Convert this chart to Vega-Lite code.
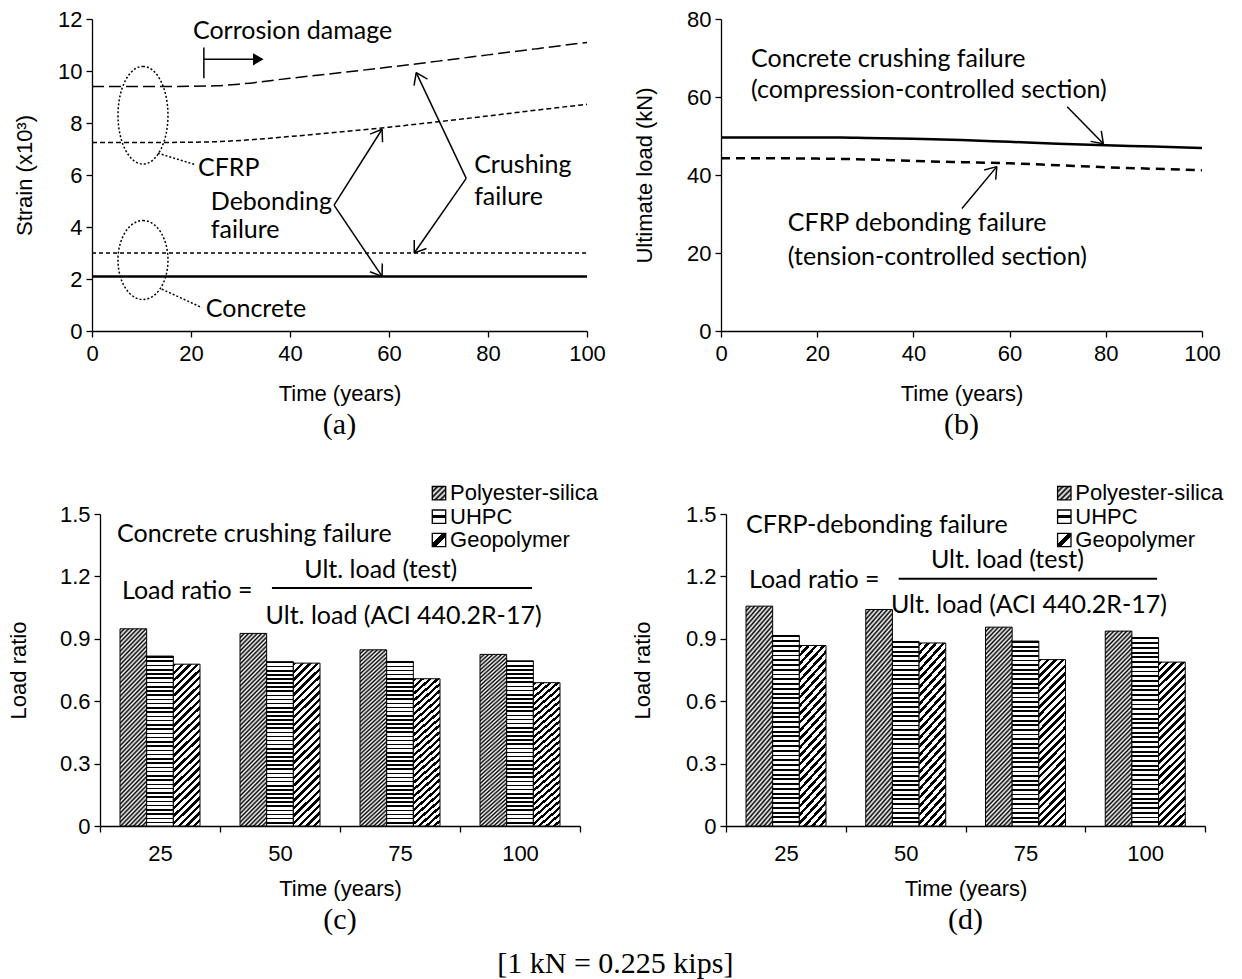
{
"$schema": "https://vega.github.io/schema/vega-lite/v6.json",
"padding": {"left": 7, "top": 8, "right": 5, "bottom": 5},
"background": "white",
"config": {
  "view": {"stroke": null},
  "font": "Liberation Sans",
  "axis": {"labelFont": "Liberation Sans", "titleFont": "Liberation Sans", "labelFontSize": 22, "titleFontSize": 22, "titleFontWeight": "normal", "labelColor": "black", "titleColor": "black", "domainColor": "black", "tickColor": "black", "grid": false, "tickSize": 6, "domainWidth": 1.3, "tickWidth": 1.3, "labelPadding": 4, "labelFlush": false},
  "axisX": {"titlePadding": 19},
  "title": {"font": "Liberation Serif", "fontSize": 30, "fontWeight": "normal", "color": "black"}
},
"datasets": {
  "a_lines": [
    {"s":"cc","x":0,"y":9.4},{"s":"cc","x":10,"y":9.4},{"s":"cc","x":20,"y":9.41},{"s":"cc","x":25,"y":9.43},{"s":"cc","x":30,"y":9.5},{"s":"cc","x":40,"y":9.72},{"s":"cc","x":50,"y":9.93},{"s":"cc","x":60,"y":10.15},{"s":"cc","x":70,"y":10.38},{"s":"cc","x":80,"y":10.62},{"s":"cc","x":90,"y":10.86},{"s":"cc","x":100,"y":11.1},
    {"s":"cd","x":0,"y":7.25},{"s":"cd","x":10,"y":7.25},{"s":"cd","x":20,"y":7.26},{"s":"cd","x":25,"y":7.28},{"s":"cd","x":30,"y":7.33},{"s":"cd","x":40,"y":7.48},{"s":"cd","x":50,"y":7.65},{"s":"cd","x":60,"y":7.84},{"s":"cd","x":70,"y":8.05},{"s":"cd","x":80,"y":8.27},{"s":"cd","x":90,"y":8.5},{"s":"cd","x":100,"y":8.72},
    {"s":"kc","x":0,"y":3.0},{"s":"kc","x":100,"y":3.0},
    {"s":"kd","x":0,"y":2.1},{"s":"kd","x":100,"y":2.1}
  ],
  "a_seg": [
    {"k":"s","x":48.9,"y":4.84,"x2":58.6,"y2":7.76},
    {"k":"s","x":58.6,"y":7.76,"x2":56.17,"y2":7.57},
    {"k":"s","x":58.6,"y":7.76,"x2":58.7,"y2":7.26},
    {"k":"s","x":48.9,"y":4.84,"x2":58.6,"y2":2.1},
    {"k":"s","x":58.6,"y":2.1,"x2":58.64,"y2":2.6},
    {"k":"s","x":58.6,"y":2.1,"x2":56.15,"y2":2.28},
    {"k":"s","x":75.6,"y":5.87,"x2":65.5,"y2":9.94},
    {"k":"s","x":65.5,"y":9.94,"x2":65.06,"y2":9.44},
    {"k":"s","x":65.5,"y":9.94,"x2":67.78,"y2":9.69},
    {"k":"s","x":75.6,"y":5.87,"x2":65.1,"y2":3.0},
    {"k":"s","x":65.1,"y":3.0,"x2":67.57,"y2":3.17},
    {"k":"s","x":65.1,"y":3.0,"x2":65.1,"y2":3.5},
    {"k":"s","x":22.6,"y":10.9,"x2":22.6,"y2":9.72},
    {"k":"s","x":22.6,"y":10.45,"x2":33.0,"y2":10.45},
    {"k":"d","x":13.3,"y":6.84,"x2":21.0,"y2":6.39},
    {"k":"d","x":14.1,"y":1.61,"x2":22.2,"y2":0.9}
  ],
  "a_txt": [
    {"x":20.4,"y":11.52,"label":"Corrosion damage"},
    {"x":21.4,"y":6.26,"label":"CFRP"},
    {"x":23.0,"y":0.84,"label":"Concrete"},
    {"x":24.0,"y":4.97,"label":"Debonding"},
    {"x":24.0,"y":3.87,"label":"failure"},
    {"x":77.2,"y":6.39,"label":"Crushing"},
    {"x":77.2,"y":5.16,"label":"failure"}
  ],
  "a_ell": [{"e":1,"x":10.3,"y":8.3},{"e":2,"x":10.3,"y":2.73}],
  "b_lines": [
    {"s":"cc","x":0,"y":49.6},{"s":"cc","x":10,"y":49.6},{"s":"cc","x":20,"y":49.6},{"s":"cc","x":25,"y":49.6},{"s":"cc","x":30,"y":49.5},{"s":"cc","x":40,"y":49.3},{"s":"cc","x":50,"y":49.0},{"s":"cc","x":60,"y":48.5},{"s":"cc","x":70,"y":48.0},{"s":"cc","x":80,"y":47.6},{"s":"cc","x":90,"y":47.3},{"s":"cc","x":100,"y":46.9},
    {"s":"cd","x":0,"y":44.3},{"s":"cd","x":10,"y":44.3},{"s":"cd","x":20,"y":44.2},{"s":"cd","x":30,"y":44.0},{"s":"cd","x":40,"y":43.6},{"s":"cd","x":50,"y":43.3},{"s":"cd","x":60,"y":43.0},{"s":"cd","x":70,"y":42.5},{"s":"cd","x":80,"y":42.0},{"s":"cd","x":90,"y":41.6},{"s":"cd","x":100,"y":41.2}
  ],
  "b_seg": [
    {"x":71.97,"y":57.5,"x2":79.5,"y2":48.0},
    {"x":79.5,"y":48.0,"x2":79.06,"y2":51.3},
    {"x":79.5,"y":48.0,"x2":76.84,"y2":48.62},
    {"x":50.1,"y":31.4,"x2":57.34,"y2":42.15},
    {"x":57.34,"y":42.15,"x2":54.72,"y2":41.27},
    {"x":57.34,"y":42.15,"x2":57.11,"y2":38.8}
  ],
  "b_txt": [
    {"x":6.24,"y":69.7,"label":"Concrete crushing failure"},
    {"x":6.24,"y":61.8,"label":"(compression-controlled section)"},
    {"x":13.9,"y":27.7,"label":"CFRP debonding failure"},
    {"x":13.9,"y":19.1,"label":"(tension-controlled section)"}
  ],
  "c_bars": [
    {"t":"25","m":"Polyester-silica","r":0.948},{"t":"25","m":"UHPC","r":0.817},{"t":"25","m":"Geopolymer","r":0.778},
    {"t":"50","m":"Polyester-silica","r":0.926},{"t":"50","m":"UHPC","r":0.79},{"t":"50","m":"Geopolymer","r":0.783},
    {"t":"75","m":"Polyester-silica","r":0.847},{"t":"75","m":"UHPC","r":0.791},{"t":"75","m":"Geopolymer","r":0.708},
    {"t":"100","m":"Polyester-silica","r":0.825},{"t":"100","m":"UHPC","r":0.794},{"t":"100","m":"Geopolymer","r":0.689}
  ],
  "d_bars": [
    {"t":"25","m":"Polyester-silica","r":1.057},{"t":"25","m":"UHPC","r":0.916},{"t":"25","m":"Geopolymer","r":0.868},
    {"t":"50","m":"Polyester-silica","r":1.041},{"t":"50","m":"UHPC","r":0.887},{"t":"50","m":"Geopolymer","r":0.88},
    {"t":"75","m":"Polyester-silica","r":0.956},{"t":"75","m":"UHPC","r":0.889},{"t":"75","m":"Geopolymer","r":0.80},
    {"t":"100","m":"Polyester-silica","r":0.937},{"t":"100","m":"UHPC","r":0.906},{"t":"100","m":"Geopolymer","r":0.788}
  ],
  "c_left": [{"x":0.142,"y":1.405,"label":"Concrete crushing failure"},{"x":0.183,"y":1.132,"label":"Load ratio ="}],
  "c_center": [{"x":2.34,"y":1.232,"label":"Ult. load (test)"},{"x":2.53,"y":1.012,"label":"Ult. load (ACI 440.2R-17)"}],
  "c_rule": [{"x":1.433,"y":1.144,"x2":3.6,"y2":1.144}],
  "d_left": [{"x":0.167,"y":1.445,"label":"CFRP-debonding failure"},{"x":0.192,"y":1.181,"label":"Load ratio ="}],
  "d_center": [{"x":2.35,"y":1.277,"label":"Ult. load (test)"},{"x":2.53,"y":1.061,"label":"Ult. load (ACI 440.2R-17)"}],
  "d_rule": [{"x":1.442,"y":1.189,"x2":3.6,"y2":1.189}],
  "leg_sq": [{"m":"Polyester-silica","x":2.825,"y":1.6},{"m":"UHPC","x":2.825,"y":1.487},{"m":"Geopolymer","x":2.825,"y":1.375}],
  "leg_txt": [{"x":2.917,"y":1.6,"label":"Polyester-silica"},{"x":2.917,"y":1.487,"label":"UHPC"},{"x":2.917,"y":1.375,"label":"Geopolymer"}]
},
"title": {"text": "[1 kN = 0.225 kips]", "orient": "bottom", "anchor": "middle", "offset": 14},
"spacing": 495,
"bounds": "flush",
"vconcat": [
  {"hconcat": [
    {
      "width": 495, "height": 312,
      "title": {"text": "(a)", "orient": "bottom", "offset": 6},
      "encoding": {
        "x": {"field": "x", "type": "quantitative", "scale": {"domain": [0, 100], "nice": false, "zero": false}, "axis": {"values": [0,20,40,60,80,100], "title": "Time (years)", "labelPadding": 6}},
        "y": {"field": "y", "type": "quantitative", "scale": {"domain": [0, 12], "nice": false}, "axis": {"values": [0,2,4,6,8,10,12], "title": "Strain (x10³)", "titlePadding": 21}}
      },
      "layer": [
        {"data": {"name": "a_lines"}, "transform": [{"filter": "datum.s == 'cc'"}], "mark": {"type": "line", "interpolate": "monotone", "stroke": "black", "strokeWidth": 1.5, "strokeDash": [12, 5]}},
        {"data": {"name": "a_lines"}, "transform": [{"filter": "datum.s == 'cd'"}], "mark": {"type": "line", "interpolate": "monotone", "stroke": "black", "strokeWidth": 1.5, "strokeDash": [5, 3]}},
        {"data": {"name": "a_lines"}, "transform": [{"filter": "datum.s == 'kc'"}], "mark": {"type": "line", "stroke": "black", "strokeWidth": 1.3, "strokeDash": [4, 3]}},
        {"data": {"name": "a_lines"}, "transform": [{"filter": "datum.s == 'kd'"}], "mark": {"type": "line", "stroke": "black", "strokeWidth": 2.5}},
        {"data": {"name": "a_seg"}, "transform": [{"filter": "datum.k == 's'"}], "mark": {"type": "rule", "stroke": "black", "strokeWidth": 1.5}, "encoding": {"x2": {"field": "x2"}, "y2": {"field": "y2"}}},
        {"data": {"name": "a_seg"}, "transform": [{"filter": "datum.k == 'd'"}], "mark": {"type": "rule", "stroke": "black", "strokeWidth": 1.5, "strokeDash": [2, 2]}, "encoding": {"x2": {"field": "x2"}, "y2": {"field": "y2"}}},
        {"data": {"values": [{"x": 33.6, "y": 10.45}]}, "mark": {"type": "point", "shape": "triangle-right", "filled": true, "fill": "black", "size": 150, "opacity": 1}},
        {"data": {"name": "a_ell"}, "transform": [{"filter": "datum.e == 1"}], "mark": {"type": "point", "shape": "M0,-1A0.512,1,0,1,1,0,1A0.512,1,0,1,1,0,-1Z", "size": 9526, "filled": false, "stroke": "black", "strokeWidth": 1.5, "strokeDash": [2, 2], "opacity": 1}},
        {"data": {"name": "a_ell"}, "transform": [{"filter": "datum.e == 2"}], "mark": {"type": "point", "shape": "M0,-1A0.633,1,0,1,1,0,1A0.633,1,0,1,1,0,-1Z", "size": 6241, "filled": false, "stroke": "black", "strokeWidth": 1.5, "strokeDash": [2, 2], "opacity": 1}},
        {"data": {"name": "a_txt"}, "mark": {"type": "text", "align": "left", "baseline": "middle", "font": "Lato", "fontSize": 25, "fill": "black"}, "encoding": {"text": {"field": "label"}}}
      ]
    },
    {
      "width": 481, "height": 312,
      "title": {"text": "(b)", "orient": "bottom", "offset": 6},
      "encoding": {
        "x": {"field": "x", "type": "quantitative", "scale": {"domain": [0, 100], "nice": false, "zero": false}, "axis": {"values": [0,20,40,60,80,100], "title": "Time (years)", "labelPadding": 6}},
        "y": {"field": "y", "type": "quantitative", "scale": {"domain": [0, 80], "nice": false}, "axis": {"values": [0,20,40,60,80], "title": "Ultimate load (kN)", "titlePadding": 30}}
      },
      "layer": [
        {"data": {"name": "b_lines"}, "transform": [{"filter": "datum.s == 'cc'"}], "mark": {"type": "line", "interpolate": "monotone", "stroke": "black", "strokeWidth": 2.5}},
        {"data": {"name": "b_lines"}, "transform": [{"filter": "datum.s == 'cd'"}], "mark": {"type": "line", "interpolate": "monotone", "stroke": "black", "strokeWidth": 2.5, "strokeDash": [9, 6]}},
        {"data": {"name": "b_seg"}, "mark": {"type": "rule", "stroke": "black", "strokeWidth": 1.5}, "encoding": {"x2": {"field": "x2"}, "y2": {"field": "y2"}}},
        {"data": {"name": "b_txt"}, "mark": {"type": "text", "align": "left", "baseline": "middle", "font": "Lato", "fontSize": 25, "fill": "black"}, "encoding": {"text": {"field": "label"}}}
      ]
    }
  ], "spacing": 134, "bounds": "flush"},
  {"hconcat": [
    {"width": 8, "height": 312, "data": {"values": [{}]}, "mark": {"type": "text", "text": ""}},
    {
      "width": 480, "height": 312,
      "title": {"text": "(c)", "orient": "bottom", "offset": 6},
      "layer": [
        {
          "data": {"name": "c_bars"},
          "encoding": {
            "x": {"field": "t", "type": "ordinal", "sort": ["25","50","75","100"], "scale": {"paddingInner": 0, "paddingOuter": 0}, "axis": {"title": "Time (years)", "tickBand": "extent", "labelAngle": 0, "labelPadding": 11, "titlePadding": 14}},
            "xOffset": {"field": "m", "type": "nominal", "scale": {"domain": ["Polyester-silica","UHPC","Geopolymer"], "paddingInner": 0, "paddingOuter": 0.75}},
            "y": {"field": "r", "type": "quantitative", "scale": {"domain": [0, 1.5], "nice": false}, "axis": {"values": [0,0.3,0.6,0.9,1.2,1.5], "format": ".1~f", "title": "Load ratio", "titlePadding": 29}}
          },
          "layer": [
            {"transform": [{"filter": "datum.m == 'Polyester-silica'"}], "mark": {"type": "bar", "stroke": "black", "strokeWidth": 1, "fill": {"gradient": "linear", "x1": 0, "y1": 0, "x2": 0.1572, "y2": 1.1184, "stops": [
{"offset":0,"color":"#000"},{"offset":0.01,"color":"#fff"},{"offset":0.02,"color":"#000"},{"offset":0.03,"color":"#fff"},{"offset":0.04,"color":"#000"},{"offset":0.05,"color":"#fff"},{"offset":0.06,"color":"#000"},{"offset":0.07,"color":"#fff"},{"offset":0.08,"color":"#000"},{"offset":0.09,"color":"#fff"},
{"offset":0.1,"color":"#000"},{"offset":0.11,"color":"#fff"},{"offset":0.12,"color":"#000"},{"offset":0.13,"color":"#fff"},{"offset":0.14,"color":"#000"},{"offset":0.15,"color":"#fff"},{"offset":0.16,"color":"#000"},{"offset":0.17,"color":"#fff"},{"offset":0.18,"color":"#000"},{"offset":0.19,"color":"#fff"},
{"offset":0.2,"color":"#000"},{"offset":0.21,"color":"#fff"},{"offset":0.22,"color":"#000"},{"offset":0.23,"color":"#fff"},{"offset":0.24,"color":"#000"},{"offset":0.25,"color":"#fff"},{"offset":0.26,"color":"#000"},{"offset":0.27,"color":"#fff"},{"offset":0.28,"color":"#000"},{"offset":0.29,"color":"#fff"},
{"offset":0.3,"color":"#000"},{"offset":0.31,"color":"#fff"},{"offset":0.32,"color":"#000"},{"offset":0.33,"color":"#fff"},{"offset":0.34,"color":"#000"},{"offset":0.35,"color":"#fff"},{"offset":0.36,"color":"#000"},{"offset":0.37,"color":"#fff"},{"offset":0.38,"color":"#000"},{"offset":0.39,"color":"#fff"},
{"offset":0.4,"color":"#000"},{"offset":0.41,"color":"#fff"},{"offset":0.42,"color":"#000"},{"offset":0.43,"color":"#fff"},{"offset":0.44,"color":"#000"},{"offset":0.45,"color":"#fff"},{"offset":0.46,"color":"#000"},{"offset":0.47,"color":"#fff"},{"offset":0.48,"color":"#000"},{"offset":0.49,"color":"#fff"},
{"offset":0.5,"color":"#000"},{"offset":0.51,"color":"#fff"},{"offset":0.52,"color":"#000"},{"offset":0.53,"color":"#fff"},{"offset":0.54,"color":"#000"},{"offset":0.55,"color":"#fff"},{"offset":0.56,"color":"#000"},{"offset":0.57,"color":"#fff"},{"offset":0.58,"color":"#000"},{"offset":0.59,"color":"#fff"},
{"offset":0.6,"color":"#000"},{"offset":0.61,"color":"#fff"},{"offset":0.62,"color":"#000"},{"offset":0.63,"color":"#fff"},{"offset":0.64,"color":"#000"},{"offset":0.65,"color":"#fff"},{"offset":0.66,"color":"#000"},{"offset":0.67,"color":"#fff"},{"offset":0.68,"color":"#000"},{"offset":0.69,"color":"#fff"},
{"offset":0.7,"color":"#000"},{"offset":0.71,"color":"#fff"},{"offset":0.72,"color":"#000"},{"offset":0.73,"color":"#fff"},{"offset":0.74,"color":"#000"},{"offset":0.75,"color":"#fff"},{"offset":0.76,"color":"#000"},{"offset":0.77,"color":"#fff"},{"offset":0.78,"color":"#000"},{"offset":0.79,"color":"#fff"},
{"offset":0.8,"color":"#000"},{"offset":0.81,"color":"#fff"},{"offset":0.82,"color":"#000"},{"offset":0.83,"color":"#fff"},{"offset":0.84,"color":"#000"},{"offset":0.85,"color":"#fff"},{"offset":0.86,"color":"#000"},{"offset":0.87,"color":"#fff"},{"offset":0.88,"color":"#000"},{"offset":0.89,"color":"#fff"},
{"offset":0.9,"color":"#000"},{"offset":0.91,"color":"#fff"},{"offset":0.92,"color":"#000"},{"offset":0.93,"color":"#fff"},{"offset":0.94,"color":"#000"},{"offset":0.95,"color":"#fff"},{"offset":0.96,"color":"#000"},{"offset":0.97,"color":"#fff"},{"offset":0.98,"color":"#000"},{"offset":0.99,"color":"#fff"},
{"offset":1,"color":"#000"}]}}},
            {"transform": [{"filter": "datum.m == 'UHPC'"}], "mark": {"type": "bar", "stroke": "black", "strokeWidth": 1, "fill": {"gradient": "linear", "x1": 0, "y1": 0, "x2": 0, "y2": 1, "stops": [
{"offset":0,"color":"#000"},{"offset":0.01,"color":"#000"},{"offset":0.01,"color":"#fff"},{"offset":0.025,"color":"#fff"},
{"offset":0.025,"color":"#000"},{"offset":0.035,"color":"#000"},{"offset":0.035,"color":"#fff"},{"offset":0.05,"color":"#fff"},
{"offset":0.05,"color":"#000"},{"offset":0.06,"color":"#000"},{"offset":0.06,"color":"#fff"},{"offset":0.075,"color":"#fff"},
{"offset":0.075,"color":"#000"},{"offset":0.085,"color":"#000"},{"offset":0.085,"color":"#fff"},{"offset":0.1,"color":"#fff"},
{"offset":0.1,"color":"#000"},{"offset":0.11,"color":"#000"},{"offset":0.11,"color":"#fff"},{"offset":0.125,"color":"#fff"},
{"offset":0.125,"color":"#000"},{"offset":0.135,"color":"#000"},{"offset":0.135,"color":"#fff"},{"offset":0.15,"color":"#fff"},
{"offset":0.15,"color":"#000"},{"offset":0.16,"color":"#000"},{"offset":0.16,"color":"#fff"},{"offset":0.175,"color":"#fff"},
{"offset":0.175,"color":"#000"},{"offset":0.185,"color":"#000"},{"offset":0.185,"color":"#fff"},{"offset":0.2,"color":"#fff"},
{"offset":0.2,"color":"#000"},{"offset":0.21,"color":"#000"},{"offset":0.21,"color":"#fff"},{"offset":0.225,"color":"#fff"},
{"offset":0.225,"color":"#000"},{"offset":0.235,"color":"#000"},{"offset":0.235,"color":"#fff"},{"offset":0.25,"color":"#fff"},
{"offset":0.25,"color":"#000"},{"offset":0.26,"color":"#000"},{"offset":0.26,"color":"#fff"},{"offset":0.275,"color":"#fff"},
{"offset":0.275,"color":"#000"},{"offset":0.285,"color":"#000"},{"offset":0.285,"color":"#fff"},{"offset":0.3,"color":"#fff"},
{"offset":0.3,"color":"#000"},{"offset":0.31,"color":"#000"},{"offset":0.31,"color":"#fff"},{"offset":0.325,"color":"#fff"},
{"offset":0.325,"color":"#000"},{"offset":0.335,"color":"#000"},{"offset":0.335,"color":"#fff"},{"offset":0.35,"color":"#fff"},
{"offset":0.35,"color":"#000"},{"offset":0.36,"color":"#000"},{"offset":0.36,"color":"#fff"},{"offset":0.375,"color":"#fff"},
{"offset":0.375,"color":"#000"},{"offset":0.385,"color":"#000"},{"offset":0.385,"color":"#fff"},{"offset":0.4,"color":"#fff"},
{"offset":0.4,"color":"#000"},{"offset":0.41,"color":"#000"},{"offset":0.41,"color":"#fff"},{"offset":0.425,"color":"#fff"},
{"offset":0.425,"color":"#000"},{"offset":0.435,"color":"#000"},{"offset":0.435,"color":"#fff"},{"offset":0.45,"color":"#fff"},
{"offset":0.45,"color":"#000"},{"offset":0.46,"color":"#000"},{"offset":0.46,"color":"#fff"},{"offset":0.475,"color":"#fff"},
{"offset":0.475,"color":"#000"},{"offset":0.485,"color":"#000"},{"offset":0.485,"color":"#fff"},{"offset":0.5,"color":"#fff"},
{"offset":0.5,"color":"#000"},{"offset":0.51,"color":"#000"},{"offset":0.51,"color":"#fff"},{"offset":0.525,"color":"#fff"},
{"offset":0.525,"color":"#000"},{"offset":0.535,"color":"#000"},{"offset":0.535,"color":"#fff"},{"offset":0.55,"color":"#fff"},
{"offset":0.55,"color":"#000"},{"offset":0.56,"color":"#000"},{"offset":0.56,"color":"#fff"},{"offset":0.575,"color":"#fff"},
{"offset":0.575,"color":"#000"},{"offset":0.585,"color":"#000"},{"offset":0.585,"color":"#fff"},{"offset":0.6,"color":"#fff"},
{"offset":0.6,"color":"#000"},{"offset":0.61,"color":"#000"},{"offset":0.61,"color":"#fff"},{"offset":0.625,"color":"#fff"},
{"offset":0.625,"color":"#000"},{"offset":0.635,"color":"#000"},{"offset":0.635,"color":"#fff"},{"offset":0.65,"color":"#fff"},
{"offset":0.65,"color":"#000"},{"offset":0.66,"color":"#000"},{"offset":0.66,"color":"#fff"},{"offset":0.675,"color":"#fff"},
{"offset":0.675,"color":"#000"},{"offset":0.685,"color":"#000"},{"offset":0.685,"color":"#fff"},{"offset":0.7,"color":"#fff"},
{"offset":0.7,"color":"#000"},{"offset":0.71,"color":"#000"},{"offset":0.71,"color":"#fff"},{"offset":0.725,"color":"#fff"},
{"offset":0.725,"color":"#000"},{"offset":0.735,"color":"#000"},{"offset":0.735,"color":"#fff"},{"offset":0.75,"color":"#fff"},
{"offset":0.75,"color":"#000"},{"offset":0.76,"color":"#000"},{"offset":0.76,"color":"#fff"},{"offset":0.775,"color":"#fff"},
{"offset":0.775,"color":"#000"},{"offset":0.785,"color":"#000"},{"offset":0.785,"color":"#fff"},{"offset":0.8,"color":"#fff"},
{"offset":0.8,"color":"#000"},{"offset":0.81,"color":"#000"},{"offset":0.81,"color":"#fff"},{"offset":0.825,"color":"#fff"},
{"offset":0.825,"color":"#000"},{"offset":0.835,"color":"#000"},{"offset":0.835,"color":"#fff"},{"offset":0.85,"color":"#fff"},
{"offset":0.85,"color":"#000"},{"offset":0.86,"color":"#000"},{"offset":0.86,"color":"#fff"},{"offset":0.875,"color":"#fff"},
{"offset":0.875,"color":"#000"},{"offset":0.885,"color":"#000"},{"offset":0.885,"color":"#fff"},{"offset":0.9,"color":"#fff"},
{"offset":0.9,"color":"#000"},{"offset":0.91,"color":"#000"},{"offset":0.91,"color":"#fff"},{"offset":0.925,"color":"#fff"},
{"offset":0.925,"color":"#000"},{"offset":0.935,"color":"#000"},{"offset":0.935,"color":"#fff"},{"offset":0.95,"color":"#fff"},
{"offset":0.95,"color":"#000"},{"offset":0.96,"color":"#000"},{"offset":0.96,"color":"#fff"},{"offset":0.975,"color":"#fff"},
{"offset":0.975,"color":"#000"},{"offset":0.985,"color":"#000"},{"offset":0.985,"color":"#fff"},{"offset":1,"color":"#fff"}]}}},
            {"transform": [{"filter": "datum.m == 'Geopolymer'"}], "mark": {"type": "bar", "stroke": "black", "strokeWidth": 1, "fill": {"gradient": "linear", "x1": 0, "y1": 0, "x2": 0.1832, "y2": 1.1322, "stops": [
{"offset":0,"color":"#000"},{"offset":0.018,"color":"#000"},{"offset":0.018,"color":"#fff"},{"offset":0.04,"color":"#fff"},
{"offset":0.04,"color":"#000"},{"offset":0.058,"color":"#000"},{"offset":0.058,"color":"#fff"},{"offset":0.08,"color":"#fff"},
{"offset":0.08,"color":"#000"},{"offset":0.098,"color":"#000"},{"offset":0.098,"color":"#fff"},{"offset":0.12,"color":"#fff"},
{"offset":0.12,"color":"#000"},{"offset":0.138,"color":"#000"},{"offset":0.138,"color":"#fff"},{"offset":0.16,"color":"#fff"},
{"offset":0.16,"color":"#000"},{"offset":0.178,"color":"#000"},{"offset":0.178,"color":"#fff"},{"offset":0.2,"color":"#fff"},
{"offset":0.2,"color":"#000"},{"offset":0.218,"color":"#000"},{"offset":0.218,"color":"#fff"},{"offset":0.24,"color":"#fff"},
{"offset":0.24,"color":"#000"},{"offset":0.258,"color":"#000"},{"offset":0.258,"color":"#fff"},{"offset":0.28,"color":"#fff"},
{"offset":0.28,"color":"#000"},{"offset":0.298,"color":"#000"},{"offset":0.298,"color":"#fff"},{"offset":0.32,"color":"#fff"},
{"offset":0.32,"color":"#000"},{"offset":0.338,"color":"#000"},{"offset":0.338,"color":"#fff"},{"offset":0.36,"color":"#fff"},
{"offset":0.36,"color":"#000"},{"offset":0.378,"color":"#000"},{"offset":0.378,"color":"#fff"},{"offset":0.4,"color":"#fff"},
{"offset":0.4,"color":"#000"},{"offset":0.418,"color":"#000"},{"offset":0.418,"color":"#fff"},{"offset":0.44,"color":"#fff"},
{"offset":0.44,"color":"#000"},{"offset":0.458,"color":"#000"},{"offset":0.458,"color":"#fff"},{"offset":0.48,"color":"#fff"},
{"offset":0.48,"color":"#000"},{"offset":0.498,"color":"#000"},{"offset":0.498,"color":"#fff"},{"offset":0.52,"color":"#fff"},
{"offset":0.52,"color":"#000"},{"offset":0.538,"color":"#000"},{"offset":0.538,"color":"#fff"},{"offset":0.56,"color":"#fff"},
{"offset":0.56,"color":"#000"},{"offset":0.578,"color":"#000"},{"offset":0.578,"color":"#fff"},{"offset":0.6,"color":"#fff"},
{"offset":0.6,"color":"#000"},{"offset":0.618,"color":"#000"},{"offset":0.618,"color":"#fff"},{"offset":0.64,"color":"#fff"},
{"offset":0.64,"color":"#000"},{"offset":0.658,"color":"#000"},{"offset":0.658,"color":"#fff"},{"offset":0.68,"color":"#fff"},
{"offset":0.68,"color":"#000"},{"offset":0.698,"color":"#000"},{"offset":0.698,"color":"#fff"},{"offset":0.72,"color":"#fff"},
{"offset":0.72,"color":"#000"},{"offset":0.738,"color":"#000"},{"offset":0.738,"color":"#fff"},{"offset":0.76,"color":"#fff"},
{"offset":0.76,"color":"#000"},{"offset":0.778,"color":"#000"},{"offset":0.778,"color":"#fff"},{"offset":0.8,"color":"#fff"},
{"offset":0.8,"color":"#000"},{"offset":0.818,"color":"#000"},{"offset":0.818,"color":"#fff"},{"offset":0.84,"color":"#fff"},
{"offset":0.84,"color":"#000"},{"offset":0.858,"color":"#000"},{"offset":0.858,"color":"#fff"},{"offset":0.88,"color":"#fff"},
{"offset":0.88,"color":"#000"},{"offset":0.898,"color":"#000"},{"offset":0.898,"color":"#fff"},{"offset":0.92,"color":"#fff"},
{"offset":0.92,"color":"#000"},{"offset":0.938,"color":"#000"},{"offset":0.938,"color":"#fff"},{"offset":0.96,"color":"#fff"},
{"offset":0.96,"color":"#000"},{"offset":0.978,"color":"#000"},{"offset":0.978,"color":"#fff"},{"offset":1,"color":"#fff"}]}}}
          ]
        },
        {
          "encoding": {
            "x": {"field": "x", "type": "quantitative", "scale": {"domain": [0, 4], "nice": false, "zero": false}, "axis": null},
            "y": {"field": "y", "type": "quantitative", "scale": {"domain": [0, 1.5], "nice": false}, "axis": null}
          },
          "layer": [
            {"data": {"name": "c_left"}, "mark": {"type": "text", "align": "left", "baseline": "middle", "font": "Lato", "fontSize": 25, "fill": "black"}, "encoding": {"text": {"field": "label"}}},
            {"data": {"name": "c_center"}, "mark": {"type": "text", "align": "center", "baseline": "middle", "font": "Lato", "fontSize": 25, "fill": "black"}, "encoding": {"text": {"field": "label"}}},
            {"data": {"name": "c_rule"}, "mark": {"type": "rule", "stroke": "black", "strokeWidth": 2}, "encoding": {"x2": {"field": "x2"}, "y2": {"field": "y2"}}},
            {"data": {"name": "leg_sq"}, "transform": [{"filter": "datum.m == 'Polyester-silica'"}], "mark": {"type": "point", "shape": "square", "size": 180, "filled": true, "stroke": "black", "strokeWidth": 1.3, "opacity": 1, "fill": {"gradient": "linear", "x1": 0, "y1": 0, "x2": 1, "y2": 1, "stops": [
{"offset":0,"color":"#000"},{"offset":0.1,"color":"#fff"},{"offset":0.2,"color":"#000"},{"offset":0.3,"color":"#fff"},{"offset":0.4,"color":"#000"},{"offset":0.5,"color":"#fff"},{"offset":0.6,"color":"#000"},{"offset":0.7,"color":"#fff"},{"offset":0.8,"color":"#000"},{"offset":0.9,"color":"#fff"},{"offset":1,"color":"#000"}]}}},
            {"data": {"name": "leg_sq"}, "transform": [{"filter": "datum.m == 'UHPC'"}], "mark": {"type": "point", "shape": "square", "size": 180, "filled": true, "stroke": "black", "strokeWidth": 1.3, "opacity": 1, "fill": {"gradient": "linear", "x1": 0, "y1": 0, "x2": 0, "y2": 1, "stops": [
{"offset":0,"color":"#fff"},{"offset":0.4,"color":"#fff"},{"offset":0.4,"color":"#000"},{"offset":0.6,"color":"#000"},{"offset":0.6,"color":"#fff"},{"offset":1,"color":"#fff"}]}}},
            {"data": {"name": "leg_sq"}, "transform": [{"filter": "datum.m == 'Geopolymer'"}], "mark": {"type": "point", "shape": "square", "size": 180, "filled": true, "stroke": "black", "strokeWidth": 1.3, "opacity": 1, "fill": {"gradient": "linear", "x1": 0, "y1": 0, "x2": 1, "y2": 1, "stops": [
{"offset":0,"color":"#fff"},{"offset":0.38,"color":"#fff"},{"offset":0.38,"color":"#000"},{"offset":0.62,"color":"#000"},{"offset":0.62,"color":"#fff"},{"offset":1,"color":"#fff"}]}}},
            {"data": {"name": "leg_txt"}, "mark": {"type": "text", "align": "left", "baseline": "middle", "font": "Liberation Sans", "fontSize": 22, "fill": "black"}, "encoding": {"text": {"field": "label"}}}
          ]
        }
      ],
      "resolve": {"scale": {"x": "independent", "y": "independent"}}
    },
    {"width": 146, "height": 312, "data": {"values": [{}]}, "mark": {"type": "text", "text": ""}},
    {
      "width": 479, "height": 312,
      "title": {"text": "(d)", "orient": "bottom", "offset": 6},
      "layer": [
        {
          "data": {"name": "d_bars"},
          "encoding": {
            "x": {"field": "t", "type": "ordinal", "sort": ["25","50","75","100"], "scale": {"paddingInner": 0, "paddingOuter": 0}, "axis": {"title": "Time (years)", "tickBand": "extent", "labelAngle": 0, "labelPadding": 11, "titlePadding": 14}},
            "xOffset": {"field": "m", "type": "nominal", "scale": {"domain": ["Polyester-silica","UHPC","Geopolymer"], "paddingInner": 0, "paddingOuter": 0.75}},
            "y": {"field": "r", "type": "quantitative", "scale": {"domain": [0, 1.5], "nice": false}, "axis": {"values": [0,0.3,0.6,0.9,1.2,1.5], "format": ".1~f", "title": "Load ratio", "titlePadding": 31}}
          },
          "layer": [
            {"transform": [{"filter": "datum.m == 'Polyester-silica'"}], "mark": {"type": "bar", "stroke": "black", "strokeWidth": 1, "fill": {"gradient": "linear", "x1": 0, "y1": 0, "x2": 0.1572, "y2": 1.1184, "stops": [
{"offset":0,"color":"#000"},{"offset":0.01,"color":"#fff"},{"offset":0.02,"color":"#000"},{"offset":0.03,"color":"#fff"},{"offset":0.04,"color":"#000"},{"offset":0.05,"color":"#fff"},{"offset":0.06,"color":"#000"},{"offset":0.07,"color":"#fff"},{"offset":0.08,"color":"#000"},{"offset":0.09,"color":"#fff"},
{"offset":0.1,"color":"#000"},{"offset":0.11,"color":"#fff"},{"offset":0.12,"color":"#000"},{"offset":0.13,"color":"#fff"},{"offset":0.14,"color":"#000"},{"offset":0.15,"color":"#fff"},{"offset":0.16,"color":"#000"},{"offset":0.17,"color":"#fff"},{"offset":0.18,"color":"#000"},{"offset":0.19,"color":"#fff"},
{"offset":0.2,"color":"#000"},{"offset":0.21,"color":"#fff"},{"offset":0.22,"color":"#000"},{"offset":0.23,"color":"#fff"},{"offset":0.24,"color":"#000"},{"offset":0.25,"color":"#fff"},{"offset":0.26,"color":"#000"},{"offset":0.27,"color":"#fff"},{"offset":0.28,"color":"#000"},{"offset":0.29,"color":"#fff"},
{"offset":0.3,"color":"#000"},{"offset":0.31,"color":"#fff"},{"offset":0.32,"color":"#000"},{"offset":0.33,"color":"#fff"},{"offset":0.34,"color":"#000"},{"offset":0.35,"color":"#fff"},{"offset":0.36,"color":"#000"},{"offset":0.37,"color":"#fff"},{"offset":0.38,"color":"#000"},{"offset":0.39,"color":"#fff"},
{"offset":0.4,"color":"#000"},{"offset":0.41,"color":"#fff"},{"offset":0.42,"color":"#000"},{"offset":0.43,"color":"#fff"},{"offset":0.44,"color":"#000"},{"offset":0.45,"color":"#fff"},{"offset":0.46,"color":"#000"},{"offset":0.47,"color":"#fff"},{"offset":0.48,"color":"#000"},{"offset":0.49,"color":"#fff"},
{"offset":0.5,"color":"#000"},{"offset":0.51,"color":"#fff"},{"offset":0.52,"color":"#000"},{"offset":0.53,"color":"#fff"},{"offset":0.54,"color":"#000"},{"offset":0.55,"color":"#fff"},{"offset":0.56,"color":"#000"},{"offset":0.57,"color":"#fff"},{"offset":0.58,"color":"#000"},{"offset":0.59,"color":"#fff"},
{"offset":0.6,"color":"#000"},{"offset":0.61,"color":"#fff"},{"offset":0.62,"color":"#000"},{"offset":0.63,"color":"#fff"},{"offset":0.64,"color":"#000"},{"offset":0.65,"color":"#fff"},{"offset":0.66,"color":"#000"},{"offset":0.67,"color":"#fff"},{"offset":0.68,"color":"#000"},{"offset":0.69,"color":"#fff"},
{"offset":0.7,"color":"#000"},{"offset":0.71,"color":"#fff"},{"offset":0.72,"color":"#000"},{"offset":0.73,"color":"#fff"},{"offset":0.74,"color":"#000"},{"offset":0.75,"color":"#fff"},{"offset":0.76,"color":"#000"},{"offset":0.77,"color":"#fff"},{"offset":0.78,"color":"#000"},{"offset":0.79,"color":"#fff"},
{"offset":0.8,"color":"#000"},{"offset":0.81,"color":"#fff"},{"offset":0.82,"color":"#000"},{"offset":0.83,"color":"#fff"},{"offset":0.84,"color":"#000"},{"offset":0.85,"color":"#fff"},{"offset":0.86,"color":"#000"},{"offset":0.87,"color":"#fff"},{"offset":0.88,"color":"#000"},{"offset":0.89,"color":"#fff"},
{"offset":0.9,"color":"#000"},{"offset":0.91,"color":"#fff"},{"offset":0.92,"color":"#000"},{"offset":0.93,"color":"#fff"},{"offset":0.94,"color":"#000"},{"offset":0.95,"color":"#fff"},{"offset":0.96,"color":"#000"},{"offset":0.97,"color":"#fff"},{"offset":0.98,"color":"#000"},{"offset":0.99,"color":"#fff"},
{"offset":1,"color":"#000"}]}}},
            {"transform": [{"filter": "datum.m == 'UHPC'"}], "mark": {"type": "bar", "stroke": "black", "strokeWidth": 1, "fill": {"gradient": "linear", "x1": 0, "y1": 0, "x2": 0, "y2": 1, "stops": [
{"offset":0,"color":"#000"},{"offset":0.01,"color":"#000"},{"offset":0.01,"color":"#fff"},{"offset":0.025,"color":"#fff"},
{"offset":0.025,"color":"#000"},{"offset":0.035,"color":"#000"},{"offset":0.035,"color":"#fff"},{"offset":0.05,"color":"#fff"},
{"offset":0.05,"color":"#000"},{"offset":0.06,"color":"#000"},{"offset":0.06,"color":"#fff"},{"offset":0.075,"color":"#fff"},
{"offset":0.075,"color":"#000"},{"offset":0.085,"color":"#000"},{"offset":0.085,"color":"#fff"},{"offset":0.1,"color":"#fff"},
{"offset":0.1,"color":"#000"},{"offset":0.11,"color":"#000"},{"offset":0.11,"color":"#fff"},{"offset":0.125,"color":"#fff"},
{"offset":0.125,"color":"#000"},{"offset":0.135,"color":"#000"},{"offset":0.135,"color":"#fff"},{"offset":0.15,"color":"#fff"},
{"offset":0.15,"color":"#000"},{"offset":0.16,"color":"#000"},{"offset":0.16,"color":"#fff"},{"offset":0.175,"color":"#fff"},
{"offset":0.175,"color":"#000"},{"offset":0.185,"color":"#000"},{"offset":0.185,"color":"#fff"},{"offset":0.2,"color":"#fff"},
{"offset":0.2,"color":"#000"},{"offset":0.21,"color":"#000"},{"offset":0.21,"color":"#fff"},{"offset":0.225,"color":"#fff"},
{"offset":0.225,"color":"#000"},{"offset":0.235,"color":"#000"},{"offset":0.235,"color":"#fff"},{"offset":0.25,"color":"#fff"},
{"offset":0.25,"color":"#000"},{"offset":0.26,"color":"#000"},{"offset":0.26,"color":"#fff"},{"offset":0.275,"color":"#fff"},
{"offset":0.275,"color":"#000"},{"offset":0.285,"color":"#000"},{"offset":0.285,"color":"#fff"},{"offset":0.3,"color":"#fff"},
{"offset":0.3,"color":"#000"},{"offset":0.31,"color":"#000"},{"offset":0.31,"color":"#fff"},{"offset":0.325,"color":"#fff"},
{"offset":0.325,"color":"#000"},{"offset":0.335,"color":"#000"},{"offset":0.335,"color":"#fff"},{"offset":0.35,"color":"#fff"},
{"offset":0.35,"color":"#000"},{"offset":0.36,"color":"#000"},{"offset":0.36,"color":"#fff"},{"offset":0.375,"color":"#fff"},
{"offset":0.375,"color":"#000"},{"offset":0.385,"color":"#000"},{"offset":0.385,"color":"#fff"},{"offset":0.4,"color":"#fff"},
{"offset":0.4,"color":"#000"},{"offset":0.41,"color":"#000"},{"offset":0.41,"color":"#fff"},{"offset":0.425,"color":"#fff"},
{"offset":0.425,"color":"#000"},{"offset":0.435,"color":"#000"},{"offset":0.435,"color":"#fff"},{"offset":0.45,"color":"#fff"},
{"offset":0.45,"color":"#000"},{"offset":0.46,"color":"#000"},{"offset":0.46,"color":"#fff"},{"offset":0.475,"color":"#fff"},
{"offset":0.475,"color":"#000"},{"offset":0.485,"color":"#000"},{"offset":0.485,"color":"#fff"},{"offset":0.5,"color":"#fff"},
{"offset":0.5,"color":"#000"},{"offset":0.51,"color":"#000"},{"offset":0.51,"color":"#fff"},{"offset":0.525,"color":"#fff"},
{"offset":0.525,"color":"#000"},{"offset":0.535,"color":"#000"},{"offset":0.535,"color":"#fff"},{"offset":0.55,"color":"#fff"},
{"offset":0.55,"color":"#000"},{"offset":0.56,"color":"#000"},{"offset":0.56,"color":"#fff"},{"offset":0.575,"color":"#fff"},
{"offset":0.575,"color":"#000"},{"offset":0.585,"color":"#000"},{"offset":0.585,"color":"#fff"},{"offset":0.6,"color":"#fff"},
{"offset":0.6,"color":"#000"},{"offset":0.61,"color":"#000"},{"offset":0.61,"color":"#fff"},{"offset":0.625,"color":"#fff"},
{"offset":0.625,"color":"#000"},{"offset":0.635,"color":"#000"},{"offset":0.635,"color":"#fff"},{"offset":0.65,"color":"#fff"},
{"offset":0.65,"color":"#000"},{"offset":0.66,"color":"#000"},{"offset":0.66,"color":"#fff"},{"offset":0.675,"color":"#fff"},
{"offset":0.675,"color":"#000"},{"offset":0.685,"color":"#000"},{"offset":0.685,"color":"#fff"},{"offset":0.7,"color":"#fff"},
{"offset":0.7,"color":"#000"},{"offset":0.71,"color":"#000"},{"offset":0.71,"color":"#fff"},{"offset":0.725,"color":"#fff"},
{"offset":0.725,"color":"#000"},{"offset":0.735,"color":"#000"},{"offset":0.735,"color":"#fff"},{"offset":0.75,"color":"#fff"},
{"offset":0.75,"color":"#000"},{"offset":0.76,"color":"#000"},{"offset":0.76,"color":"#fff"},{"offset":0.775,"color":"#fff"},
{"offset":0.775,"color":"#000"},{"offset":0.785,"color":"#000"},{"offset":0.785,"color":"#fff"},{"offset":0.8,"color":"#fff"},
{"offset":0.8,"color":"#000"},{"offset":0.81,"color":"#000"},{"offset":0.81,"color":"#fff"},{"offset":0.825,"color":"#fff"},
{"offset":0.825,"color":"#000"},{"offset":0.835,"color":"#000"},{"offset":0.835,"color":"#fff"},{"offset":0.85,"color":"#fff"},
{"offset":0.85,"color":"#000"},{"offset":0.86,"color":"#000"},{"offset":0.86,"color":"#fff"},{"offset":0.875,"color":"#fff"},
{"offset":0.875,"color":"#000"},{"offset":0.885,"color":"#000"},{"offset":0.885,"color":"#fff"},{"offset":0.9,"color":"#fff"},
{"offset":0.9,"color":"#000"},{"offset":0.91,"color":"#000"},{"offset":0.91,"color":"#fff"},{"offset":0.925,"color":"#fff"},
{"offset":0.925,"color":"#000"},{"offset":0.935,"color":"#000"},{"offset":0.935,"color":"#fff"},{"offset":0.95,"color":"#fff"},
{"offset":0.95,"color":"#000"},{"offset":0.96,"color":"#000"},{"offset":0.96,"color":"#fff"},{"offset":0.975,"color":"#fff"},
{"offset":0.975,"color":"#000"},{"offset":0.985,"color":"#000"},{"offset":0.985,"color":"#fff"},{"offset":1,"color":"#fff"}]}}},
            {"transform": [{"filter": "datum.m == 'Geopolymer'"}], "mark": {"type": "bar", "stroke": "black", "strokeWidth": 1, "fill": {"gradient": "linear", "x1": 0, "y1": 0, "x2": 0.1832, "y2": 1.1322, "stops": [
{"offset":0,"color":"#000"},{"offset":0.018,"color":"#000"},{"offset":0.018,"color":"#fff"},{"offset":0.04,"color":"#fff"},
{"offset":0.04,"color":"#000"},{"offset":0.058,"color":"#000"},{"offset":0.058,"color":"#fff"},{"offset":0.08,"color":"#fff"},
{"offset":0.08,"color":"#000"},{"offset":0.098,"color":"#000"},{"offset":0.098,"color":"#fff"},{"offset":0.12,"color":"#fff"},
{"offset":0.12,"color":"#000"},{"offset":0.138,"color":"#000"},{"offset":0.138,"color":"#fff"},{"offset":0.16,"color":"#fff"},
{"offset":0.16,"color":"#000"},{"offset":0.178,"color":"#000"},{"offset":0.178,"color":"#fff"},{"offset":0.2,"color":"#fff"},
{"offset":0.2,"color":"#000"},{"offset":0.218,"color":"#000"},{"offset":0.218,"color":"#fff"},{"offset":0.24,"color":"#fff"},
{"offset":0.24,"color":"#000"},{"offset":0.258,"color":"#000"},{"offset":0.258,"color":"#fff"},{"offset":0.28,"color":"#fff"},
{"offset":0.28,"color":"#000"},{"offset":0.298,"color":"#000"},{"offset":0.298,"color":"#fff"},{"offset":0.32,"color":"#fff"},
{"offset":0.32,"color":"#000"},{"offset":0.338,"color":"#000"},{"offset":0.338,"color":"#fff"},{"offset":0.36,"color":"#fff"},
{"offset":0.36,"color":"#000"},{"offset":0.378,"color":"#000"},{"offset":0.378,"color":"#fff"},{"offset":0.4,"color":"#fff"},
{"offset":0.4,"color":"#000"},{"offset":0.418,"color":"#000"},{"offset":0.418,"color":"#fff"},{"offset":0.44,"color":"#fff"},
{"offset":0.44,"color":"#000"},{"offset":0.458,"color":"#000"},{"offset":0.458,"color":"#fff"},{"offset":0.48,"color":"#fff"},
{"offset":0.48,"color":"#000"},{"offset":0.498,"color":"#000"},{"offset":0.498,"color":"#fff"},{"offset":0.52,"color":"#fff"},
{"offset":0.52,"color":"#000"},{"offset":0.538,"color":"#000"},{"offset":0.538,"color":"#fff"},{"offset":0.56,"color":"#fff"},
{"offset":0.56,"color":"#000"},{"offset":0.578,"color":"#000"},{"offset":0.578,"color":"#fff"},{"offset":0.6,"color":"#fff"},
{"offset":0.6,"color":"#000"},{"offset":0.618,"color":"#000"},{"offset":0.618,"color":"#fff"},{"offset":0.64,"color":"#fff"},
{"offset":0.64,"color":"#000"},{"offset":0.658,"color":"#000"},{"offset":0.658,"color":"#fff"},{"offset":0.68,"color":"#fff"},
{"offset":0.68,"color":"#000"},{"offset":0.698,"color":"#000"},{"offset":0.698,"color":"#fff"},{"offset":0.72,"color":"#fff"},
{"offset":0.72,"color":"#000"},{"offset":0.738,"color":"#000"},{"offset":0.738,"color":"#fff"},{"offset":0.76,"color":"#fff"},
{"offset":0.76,"color":"#000"},{"offset":0.778,"color":"#000"},{"offset":0.778,"color":"#fff"},{"offset":0.8,"color":"#fff"},
{"offset":0.8,"color":"#000"},{"offset":0.818,"color":"#000"},{"offset":0.818,"color":"#fff"},{"offset":0.84,"color":"#fff"},
{"offset":0.84,"color":"#000"},{"offset":0.858,"color":"#000"},{"offset":0.858,"color":"#fff"},{"offset":0.88,"color":"#fff"},
{"offset":0.88,"color":"#000"},{"offset":0.898,"color":"#000"},{"offset":0.898,"color":"#fff"},{"offset":0.92,"color":"#fff"},
{"offset":0.92,"color":"#000"},{"offset":0.938,"color":"#000"},{"offset":0.938,"color":"#fff"},{"offset":0.96,"color":"#fff"},
{"offset":0.96,"color":"#000"},{"offset":0.978,"color":"#000"},{"offset":0.978,"color":"#fff"},{"offset":1,"color":"#fff"}]}}}
          ]
        },
        {
          "encoding": {
            "x": {"field": "x", "type": "quantitative", "scale": {"domain": [0, 4], "nice": false, "zero": false}, "axis": null},
            "y": {"field": "y", "type": "quantitative", "scale": {"domain": [0, 1.5], "nice": false}, "axis": null}
          },
          "layer": [
            {"data": {"name": "d_left"}, "mark": {"type": "text", "align": "left", "baseline": "middle", "font": "Lato", "fontSize": 25, "fill": "black"}, "encoding": {"text": {"field": "label"}}},
            {"data": {"name": "d_center"}, "mark": {"type": "text", "align": "center", "baseline": "middle", "font": "Lato", "fontSize": 25, "fill": "black"}, "encoding": {"text": {"field": "label"}}},
            {"data": {"name": "d_rule"}, "mark": {"type": "rule", "stroke": "black", "strokeWidth": 2}, "encoding": {"x2": {"field": "x2"}, "y2": {"field": "y2"}}},
            {"data": {"name": "leg_sq"}, "transform": [{"filter": "datum.m == 'Polyester-silica'"}], "mark": {"type": "point", "shape": "square", "size": 180, "filled": true, "stroke": "black", "strokeWidth": 1.3, "opacity": 1, "fill": {"gradient": "linear", "x1": 0, "y1": 0, "x2": 1, "y2": 1, "stops": [
{"offset":0,"color":"#000"},{"offset":0.1,"color":"#fff"},{"offset":0.2,"color":"#000"},{"offset":0.3,"color":"#fff"},{"offset":0.4,"color":"#000"},{"offset":0.5,"color":"#fff"},{"offset":0.6,"color":"#000"},{"offset":0.7,"color":"#fff"},{"offset":0.8,"color":"#000"},{"offset":0.9,"color":"#fff"},{"offset":1,"color":"#000"}]}}},
            {"data": {"name": "leg_sq"}, "transform": [{"filter": "datum.m == 'UHPC'"}], "mark": {"type": "point", "shape": "square", "size": 180, "filled": true, "stroke": "black", "strokeWidth": 1.3, "opacity": 1, "fill": {"gradient": "linear", "x1": 0, "y1": 0, "x2": 0, "y2": 1, "stops": [
{"offset":0,"color":"#fff"},{"offset":0.4,"color":"#fff"},{"offset":0.4,"color":"#000"},{"offset":0.6,"color":"#000"},{"offset":0.6,"color":"#fff"},{"offset":1,"color":"#fff"}]}}},
            {"data": {"name": "leg_sq"}, "transform": [{"filter": "datum.m == 'Geopolymer'"}], "mark": {"type": "point", "shape": "square", "size": 180, "filled": true, "stroke": "black", "strokeWidth": 1.3, "opacity": 1, "fill": {"gradient": "linear", "x1": 0, "y1": 0, "x2": 1, "y2": 1, "stops": [
{"offset":0,"color":"#fff"},{"offset":0.38,"color":"#fff"},{"offset":0.38,"color":"#000"},{"offset":0.62,"color":"#000"},{"offset":0.62,"color":"#fff"},{"offset":1,"color":"#fff"}]}}},
            {"data": {"name": "leg_txt"}, "mark": {"type": "text", "align": "left", "baseline": "middle", "font": "Liberation Sans", "fontSize": 22, "fill": "black"}, "encoding": {"text": {"field": "label"}}}
          ]
        }
      ],
      "resolve": {"scale": {"x": "independent", "y": "independent"}}
    }
  ], "spacing": 0, "bounds": "flush"}
]
}
